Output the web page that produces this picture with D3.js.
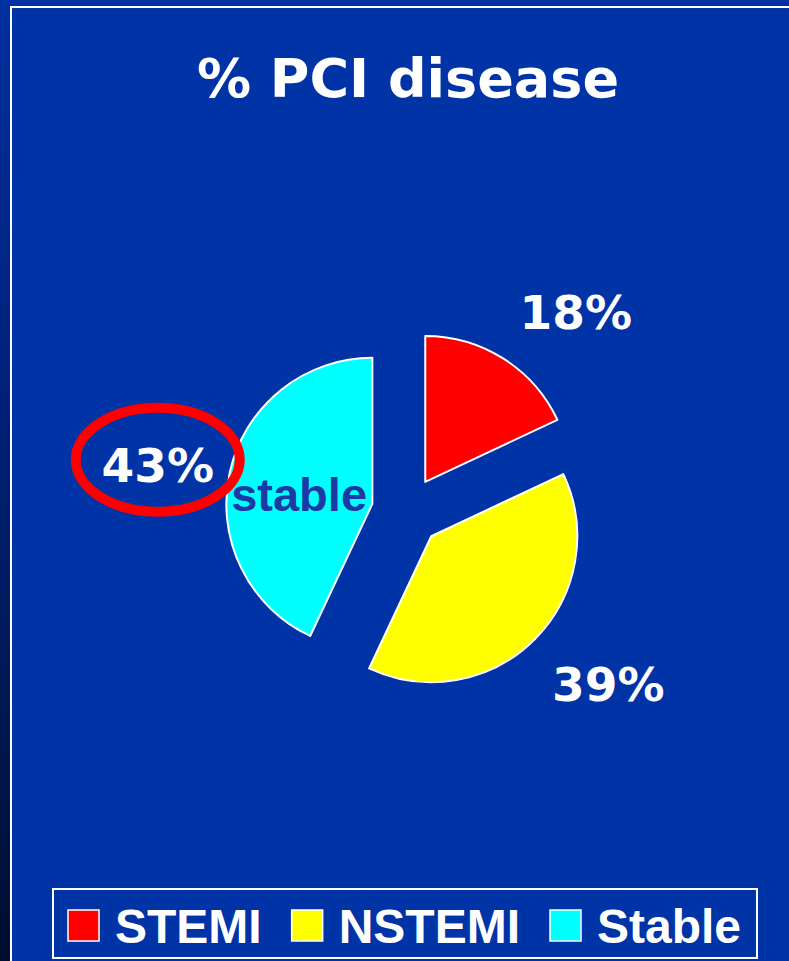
<!doctype html>
<html lang="en">
<head>
	<meta charset="utf-8">
	<title>% PCI disease</title>
	<script src="https://cdn.jsdelivr.net/npm/d3@7"></script>
	<style>
		body { margin: 0; background: #0033a6; }
		svg { display: block; }
	</style>
</head>
<body>
	<div id='viz'></div>
	<script>
		// chart data
		var categories = ["STEMI", "NSTEMI", "Stable"];
		var percents = [18, 39, 43];
		var sliceColors = ["#ff0000", "#ffff00", "#00ffff"];
		var highlighted = "Stable";   // circled in red
		var titleText = "% PCI disease";

		var W = 789, H = 961;
		var svg = d3.select("#viz").append("svg").attr("width", W).attr("height", H);

		// background + frame
		var defs = svg.append("defs");
		var grad = defs.append("linearGradient").attr("id", "leftStrip")
			.attr("x1", 0).attr("y1", 0).attr("x2", 0).attr("y2", 1);
		grad.append("stop").attr("offset", "0%").attr("stop-color", "#0030a0");
		grad.append("stop").attr("offset", "40%").attr("stop-color", "#00217a");
		grad.append("stop").attr("offset", "75%").attr("stop-color", "#001850");
		grad.append("stop").attr("offset", "100%").attr("stop-color", "#000d2e");

		svg.append("rect").attr("width", W).attr("height", H).attr("fill", "#0033a6");
		svg.append("rect").attr("width", W).attr("height", 7).attr("fill", "#0031a2");
		svg.append("rect").attr("width", 10).attr("height", H).attr("fill", "url(#leftStrip)");
		svg.append("line").attr("x1", 11).attr("x2", W).attr("y1", 7).attr("y2", 7)
			.attr("stroke", "#fff").attr("stroke-width", 2);
		svg.append("line").attr("x1", 11).attr("x2", 11).attr("y1", 6).attr("y2", H)
			.attr("stroke", "#fff").attr("stroke-width", 2);

		// title
		svg.append("text").attr("x", 408).attr("y", 97)
			.attr("text-anchor", "middle")
			.attr("font-family", "'DejaVu Sans', Verdana, sans-serif")
			.attr("font-weight", "bold").attr("font-size", 54)
			.attr("fill", "#fff")
			.text(titleText);

		// exploded pie
		var cx = 406.5, cy = 511.5, radius = 146, explode = 35, labelR = 225;
		var labelShift = [[30, 20], [18, -11], [5, 10]];
		var data = categories.map(function(c, i) { return { name: c, value: percents[i], color: sliceColors[i] }; });

		var pie = d3.pie().sort(null).value(function(d) { return d.value; });
		var arc = d3.arc().innerRadius(0).outerRadius(radius);
		var arcs = pie(data);

		var pieG = svg.append("g").attr("transform", "translate(" + cx + "," + cy + ")");

		function mid(d) { return (d.startAngle + d.endAngle) / 2; }

		var slices = pieG.selectAll("g.slice").data(arcs).enter().append("g")
			.attr("class", "slice")
			.attr("transform", function(d) {
				var a = mid(d);
				return "translate(" + (explode * Math.sin(a)) + "," + (-explode * Math.cos(a)) + ")";
			});

		slices.append("path")
			.attr("d", arc)
			.attr("fill", function(d) { return d.data.color; })
			.attr("stroke", "#fff")
			.attr("stroke-width", 2)
			.attr("stroke-linejoin", "round");

		// percent labels outside
		slices.each(function(d, i) {
			var a = mid(d);
			var lx = labelR * Math.sin(a) + labelShift[i][0];
			var ly = -labelR * Math.cos(a) + labelShift[i][1];
			var g = d3.select(this);
			g.append("text")
				.attr("x", lx).attr("y", ly + 17)
				.attr("text-anchor", "middle")
				.attr("font-family", "'DejaVu Sans', Verdana, sans-serif")
				.attr("font-weight", "bold").attr("font-size", 47)
				.attr("fill", "#fff")
				.text(d.data.value + "%");
			if (d.data.name === highlighted) {
				g.append("ellipse")
					.attr("cx", lx).attr("cy", ly - 5)
					.attr("rx", 82).attr("ry", 52)
					.attr("fill", "none")
					.attr("stroke", "#ff0000")
					.attr("stroke-width", 10);
				// inner annotation
				g.append("text")
					.attr("x", arc.centroid(d)[0] - 2).attr("y", 7)
					.attr("text-anchor", "middle")
					.attr("font-family", "'Liberation Sans', Arial, sans-serif")
					.attr("font-weight", "bold").attr("font-size", 47)
					.attr("fill", "#1c3aa6")
					.text(d.data.name.toLowerCase());
			}
		});

		// legend
		var legend = svg.append("g");
		legend.append("rect").attr("x", 53).attr("y", 889).attr("width", 704).attr("height", 69)
			.attr("fill", "none").attr("stroke", "#fff").attr("stroke-width", 2);

		var lx = 68;
		data.forEach(function(d) {
			legend.append("rect").attr("x", lx).attr("y", 910).attr("width", 31).attr("height", 31)
				.attr("fill", d.color).attr("stroke", "#fff").attr("stroke-width", 1.5);
			var t = legend.append("text").attr("x", lx + 47).attr("y", 943)
				.attr("font-family", "'Liberation Sans', Arial, sans-serif")
				.attr("font-weight", "bold").attr("font-size", 48)
				.attr("fill", "#fff")
				.text(d.name);
			lx = lx + 47 + t.node().getComputedTextLength() + 30;
		});
	</script>
</body>
</html>
